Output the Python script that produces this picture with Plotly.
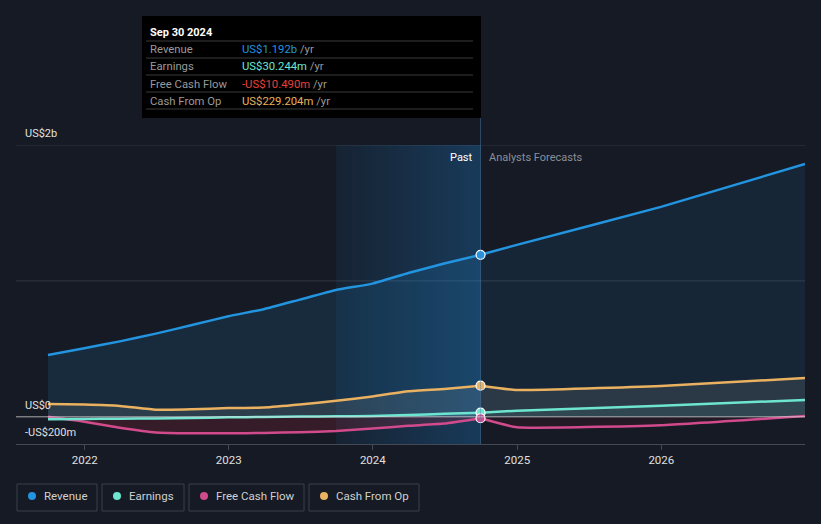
import plotly.graph_objects as go

# ---------------- data ----------------
past_dates = ["2021-09-30", "2021-12-31", "2022-03-31", "2022-06-30", "2022-09-30",
              "2022-12-31", "2023-03-31", "2023-06-30", "2023-09-30", "2023-12-31",
              "2024-03-31", "2024-06-30", "2024-09-30"]
fc_dates = ["2024-09-30", "2024-12-31", "2025-12-31", "2026-12-31"]

revenue_past = [455, 505, 555, 612, 675, 740, 792, 862, 933, 980, 1058, 1128, 1192]
revenue_fc = [1192, 1265, 1545, 1860]

earnings_past = [-18, -16, -14, -12, -8, -4, -1, 2, 4, 6, 14, 22, 30.244]
earnings_fc = [30.244, 45, 82, 124]

fcf_past = [0, -36, -80, -115, -121, -121, -119, -113, -105, -86, -66, -50, -10.49]
fcf_fc = [-10.49, -77, -62, 6]

cfo_past = [94, 90, 80, 52, 56, 64, 68, 90, 118, 150, 188, 205, 229.204]
cfo_fc = [229.204, 197, 226, 286]

series_names = ["Revenue", "Earnings", "Free Cash Flow", "Cash From Op"]
tooltip_values = ["US$1.192b", "US$30.244m", "-US$10.490m", "US$229.204m"]
y_tick_vals = [2000, 0, -200]
y_tick_text = ["US$2b", "US$0", "-US$200m"]
x_tick_vals = ["2022-01-01", "2023-01-01", "2024-01-01", "2025-01-01", "2026-01-01"]
x_tick_text = ["2022", "2023", "2024", "2025", "2026"]

# ---------------- styles ----------------
BG = "#151a24"
C_REV = "#2394df"
C_EARN = "#6ee5d0"
C_FCF = "#d14a8c"
C_CFO = "#e9b160"
FONT = "Roboto"

fig = go.Figure()

# past highlight band (last year before the cut)
fig.add_trace(go.Scatter(
    x=["2023-09-30", "2024-09-30", "2024-09-30", "2023-09-30", "2023-09-30"],
    y=[-200, -200, 2000, 2000, -200],
    mode="lines", line=dict(width=0), fill="toself",
    fillgradient=dict(type="horizontal",
                      colorscale=[[0, "rgba(33,150,243,0.07)"], [1, "rgba(33,150,243,0.26)"]]),
    hoverinfo="skip", showlegend=False))

def add_series(dates, vals, color, fillcolor, width=2.5):
    fig.add_trace(go.Scatter(
        x=dates, y=vals, mode="lines",
        line=dict(color=color, width=width, shape="spline", smoothing=0.4),
        fill="tozeroy", fillcolor=fillcolor,
        hoverinfo="skip", showlegend=False))

# fills + lines
add_series(past_dates, revenue_past, C_REV, "rgba(35,148,223,0.14)")
add_series(fc_dates, revenue_fc, C_REV, "rgba(35,148,223,0.10)")
add_series(past_dates, cfo_past, C_CFO, "rgba(200,200,190,0.12)")
add_series(fc_dates, cfo_fc, C_CFO, "rgba(200,200,190,0.12)")
add_series(past_dates, fcf_past, C_FCF, "rgba(200,40,60,0.18)")
add_series(fc_dates, fcf_fc, C_FCF, "rgba(200,40,60,0.08)")
add_series(past_dates, earnings_past, C_EARN, "rgba(110,229,208,0.10)")
add_series(fc_dates, earnings_fc, C_EARN, "rgba(110,229,208,0.08)")

# markers at the cut
for vals, color in [(revenue_past, C_REV), (cfo_past, C_CFO), (earnings_past, C_EARN), (fcf_past, C_FCF)]:
    fig.add_trace(go.Scatter(
        x=[past_dates[-1]], y=[vals[-1]], mode="markers",
        marker=dict(size=9, color=color, line=dict(color="white", width=1.2)),
        hoverinfo="skip", showlegend=False))

W, H = 821, 524
L, R, T, B = 16, 16, 145, 80
pw, ph = W - L - R, H - T - B

def px(x):
    return (x - L) / pw

def py(y):
    return (H - B - y) / ph

shapes = []
# gridlines
for yv in [1000, 2000]:
    shapes.append(dict(type="line", xref="paper", yref="y", x0=0, x1=1, y0=yv, y1=yv,
                       line=dict(color="rgba(255,255,255,0.13)", width=1), layer="below"))
# zero line
shapes.append(dict(type="line", xref="paper", yref="y", x0=0, x1=1, y0=0, y1=0,
                   line=dict(color="rgba(220,220,220,0.75)", width=1)))
# vertical cut line
shapes.append(dict(type="line", xref="x", yref="paper", x0="2024-09-30", x1="2024-09-30",
                   y0=0, y1=1.09, line=dict(color="rgba(80,130,180,0.45)", width=1)))

annotations = []
# y tick labels
for yv, txt in zip(y_tick_vals, y_tick_text):
    annotations.append(dict(xref="paper", yref="y", x=px(23), y=yv, text=txt, showarrow=False,
                            xanchor="left", yanchor="bottom", yshift=3,
                            font=dict(family=FONT, size=11, color="#e0e0e0")))

annotations.append(dict(xref="x", yref="paper", x="2024-09-30", y=0.985, text="Past",
                        showarrow=False, xanchor="right", yanchor="top", xshift=-6,
                        font=dict(family=FONT, size=11, color="#ffffff")))
annotations.append(dict(xref="x", yref="paper", x="2024-09-30", y=0.985, text="Analysts Forecasts",
                        showarrow=False, xanchor="left", yanchor="top", xshift=6,
                        font=dict(family=FONT, size=11, color="#8a8f98")))

# tooltip box
shapes.append(dict(type="rect", xref="paper", yref="paper",
                   x0=px(142), x1=px(481), y0=py(118), y1=py(16),
                   fillcolor="#000000", line=dict(width=0)))
annotations.append(dict(xref="paper", yref="paper", x=px(148), y=py(32), text="<b>Sep 30 2024</b>",
                        showarrow=False, xanchor="left", yanchor="middle",
                        font=dict(family=FONT, size=11, color="#ffffff")))
for i, ylin in enumerate([41, 58, 75, 92, 109]):
    shapes.append(dict(type="line", xref="paper", yref="paper", x0=px(146), x1=px(473),
                       y0=py(ylin), y1=py(ylin), line=dict(color="#3a3a3a", width=1)))
val_colors = [C_REV, C_EARN, "#e8413c", C_CFO]
for i, (name, val, vc) in enumerate(zip(series_names, tooltip_values, val_colors)):
    yy = py(49.5 + i * 17.3)
    annotations.append(dict(xref="paper", yref="paper", x=px(148), y=yy, text=name,
                            showarrow=False, xanchor="left", yanchor="middle",
                            font=dict(family=FONT, size=11.3, color="#9a9a9a")))
    annotations.append(dict(xref="paper", yref="paper", x=px(240), y=yy,
                            text=f"<span style='color:{vc}'>{val}</span> <span style='color:#9a9a9a'>/yr</span>",
                            showarrow=False, xanchor="left", yanchor="middle",
                            font=dict(family=FONT, size=11.3, color=vc)))

# legend boxes
legend_boxes = [(17, 97), (102, 184), (189, 304), (309, 419)]
leg_colors = [C_REV, C_EARN, C_FCF, C_CFO]
for (x0, x1), name, c in zip(legend_boxes, series_names, leg_colors):
    shapes.append(dict(type="rect", xref="paper", yref="paper", x0=px(x0), x1=px(x1),
                       y0=py(511), y1=py(484), line=dict(color="#3b404b", width=1),
                       fillcolor="rgba(0,0,0,0)"))
    shapes.append(dict(type="circle", xref="paper", yref="paper",
                       x0=px(x0 + 11), x1=px(x0 + 19), y0=py(500), y1=py(492),
                       fillcolor=c, line=dict(width=0)))
    annotations.append(dict(xref="paper", yref="paper", x=px(x0 + 25), y=py(496), text=name,
                            showarrow=False, xanchor="left", yanchor="middle",
                            font=dict(family=FONT, size=11.5, color="#d0d0d0")))

fig.update_layout(
    width=W, height=H,
    margin=dict(l=L, r=R, t=T, b=B),
    paper_bgcolor=BG, plot_bgcolor=BG,
    showlegend=False, hovermode=False,
    shapes=shapes, annotations=annotations,
    xaxis=dict(range=["2021-07-11", "2026-12-31"], showgrid=False, zeroline=False,
               tickvals=x_tick_vals, ticktext=x_tick_text, ticks="outside", ticklen=5,
               tickcolor="#444a55", showline=True, linecolor="#444a55", linewidth=1,
               tickfont=dict(family=FONT, size=11.5, color="#e0e0e0")),
    yaxis=dict(range=[-200, 2000], showgrid=False, zeroline=False, showticklabels=False,
               showline=False),
)

fig.write_html("out.html", config={"displayModeBar": False},
               post_script="document.body.style.margin='0';document.body.style.background='" + BG + "';")
